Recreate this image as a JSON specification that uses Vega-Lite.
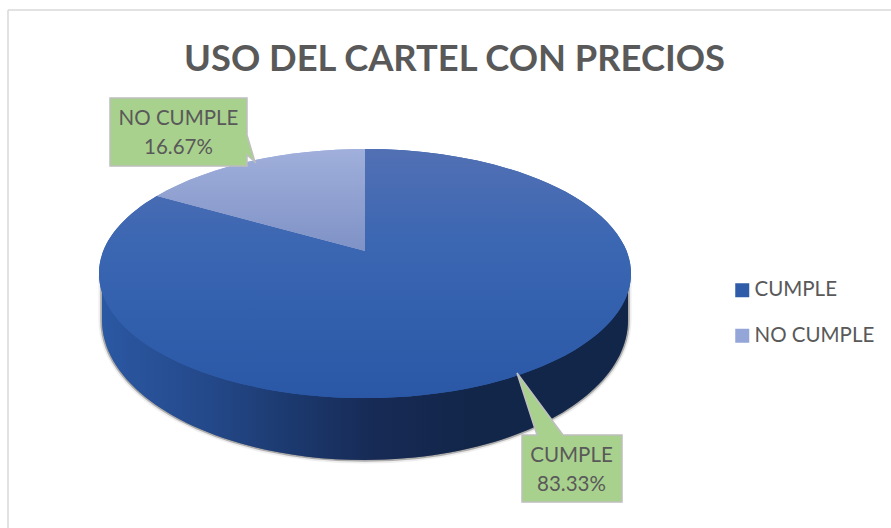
{
"$schema":"https://vega.github.io/schema/vega-lite/v6.json",
"width":883,"height":518,
"autosize":"none",
"padding":{"left":8,"top":10,"right":0,"bottom":0},
"background":"white",
"view":{"stroke":null},
"title":{"text":"USO DEL CARTEL CON PRECIOS","font":"Lato","fontSize":36.3,"fontWeight":"bold","color":"#595959","anchor":"middle","baseline":"alphabetic","offset":0,"dx":5,"dy":98},
"data":{"values":[{"category":"CUMPLE","value":0.8333},{"category":"NO CUMPLE","value":0.1667}]},
"layer":[
{"transform":[{"filter":"datum.category==='CUMPLE'"}],"mark":{"type":"rule","stroke":"#d9d9d9","strokeWidth":1.5},"encoding":{"x":{"value":0}}},
{"transform":[{"filter":"datum.category==='CUMPLE'"}],"mark":{"type":"rule","stroke":"#d9d9d9","strokeWidth":1.5},"encoding":{"y":{"value":0}}},
{"transform":[{"filter":"datum.category==='CUMPLE'"}],"mark":{"type":"point","filled":true,"size":4,"opacity":0.35,"fill":"#555555","stroke":"#666666","strokeWidth":7,"strokeOpacity":0.3,"shape":"M -347.5 11 L -347.5 51 A 263 140 0 0 0 178.5 51 L 178.5 11 Z"}},
{"transform":[{"filter":"datum.category==='CUMPLE'"}],"mark":{"type":"point","filled":true,"size":4,"opacity":0.7,"fill":"#555555","stroke":"#555555","strokeWidth":3.5,"strokeOpacity":0.6,"shape":"M -347.5 11 L -347.5 51 A 263 140 0 0 0 178.5 51 L 178.5 11 Z"}},
{"transform":[{"filter":"datum.category==='CUMPLE'"}],"mark":{"type":"point","filled":true,"size":4,"opacity":1,"strokeWidth":0,"fill":{"gradient":"linear","x1":0,"x2":1,"y1":0,"y2":0,"stops":[{"offset":0,"color":"#2b58a3"},{"offset":0.2,"color":"#24498a"},{"offset":0.35,"color":"#1c3a70"},{"offset":0.52,"color":"#172a55"},{"offset":0.7,"color":"#12264a"},{"offset":1,"color":"#12264a"}]},"shape":"M -347.5 11 L -347.5 51 A 263 140 0 0 0 178.5 51 L 178.5 11 Z"}},
{"transform":[{"filter":"datum.category==='CUMPLE'"}],"mark":{"type":"point","filled":true,"size":4,"opacity":1,"strokeWidth":0,"shape":"M -84.5 -18 L -84.5 -120 A 266 124.5 0 1 1 -292.7 -73 Z"},
 "encoding":{"color":{"field":"category","type":"nominal","title":null,
  "scale":{"domain":["CUMPLE","NO CUMPLE"],"range":["#2f5ca9","#94a6d7"]},
  "legend":{"orient":"none","legendX":724,"legendY":270,"symbolType":"square","symbolSize":196,"symbolStrokeWidth":0,"labelFont":"Lato","labelFontSize":20.5,"labelColor":"#595959","labelOffset":2,"rowPadding":24.5,"padding":0}}}},
{"transform":[{"filter":"datum.category==='NO CUMPLE'"}],"mark":{"type":"point","filled":true,"size":4,"opacity":1,"strokeWidth":0,"shape":"M -84.5 -18 L -292.7 -73 A 266 124.5 0 0 1 -84.5 -120 Z"},
 "encoding":{"color":{"field":"category","type":"nominal"}}},
{"transform":[{"filter":"datum.category==='CUMPLE'"}],"mark":{"type":"point","filled":true,"size":4,"opacity":1,"strokeWidth":0,"fill":{"gradient":"linear","x1":0,"x2":0,"y1":0,"y2":1,"stops":[{"offset":0,"color":"#5270b4"},{"offset":0.4,"color":"#3a66b2"},{"offset":1,"color":"#2a58a6"}]},"shape":"M -84.5 -18 L -84.5 -120 A 266 124.5 0 1 1 -292.7 -73 Z"}},
{"transform":[{"filter":"datum.category==='NO CUMPLE'"}],"mark":{"type":"point","filled":true,"size":4,"opacity":1,"strokeWidth":0,"fill":{"gradient":"linear","x1":0,"x2":0,"y1":0,"y2":1,"stops":[{"offset":0,"color":"#a0afdb"},{"offset":1,"color":"#7f92c6"}]},"shape":"M -84.5 -18 L -292.7 -73 A 266 124.5 0 0 1 -84.5 -120 Z"}},
{"transform":[{"filter":"datum.category==='CUMPLE'"}],"mark":{"type":"point","filled":true,"size":4,"opacity":1,"fill":"#a9d18e","stroke":"#bfbfbf","strokeWidth":1.5,"shape":"M 72.5 166 L 87.5 166 L 67.5 104 L 113.5 166 L 172.5 166 L 172.5 233 L 72.5 233 Z"}},
{"transform":[{"filter":"datum.category==='NO CUMPLE'"}],"mark":{"type":"point","filled":true,"size":4,"opacity":1,"fill":"#a9d18e","stroke":"#bfbfbf","strokeWidth":1.5,"shape":"M -339.5 -171 L -202.5 -171 L -202.5 -134 L -194.5 -107 L -202.5 -114 L -202.5 -103 L -339.5 -103 Z"}},
{"mark":{"type":"text","font":"Lato","fontSize":20.5,"color":"#595959","baseline":"middle","align":"center"},
 "encoding":{"x":{"field":"category","type":"nominal","axis":null,"scale":{"type":"point","padding":0,"domain":["CUMPLE","NO CUMPLE"],"range":[563.5,170.5]}},
 "y":{"field":"category","type":"nominal","axis":null,"scale":{"type":"point","padding":0,"domain":["CUMPLE","NO CUMPLE"],"range":[446,108.5]}},
 "text":{"field":"category","type":"nominal"}}},
{"mark":{"type":"text","font":"Lato","fontSize":20.5,"color":"#595959","baseline":"middle","align":"center","dy":29},
 "encoding":{"x":{"field":"category","type":"nominal","axis":null},
 "y":{"field":"category","type":"nominal","axis":null},
 "text":{"field":"value","type":"quantitative","format":".2%"}}}
]
}
